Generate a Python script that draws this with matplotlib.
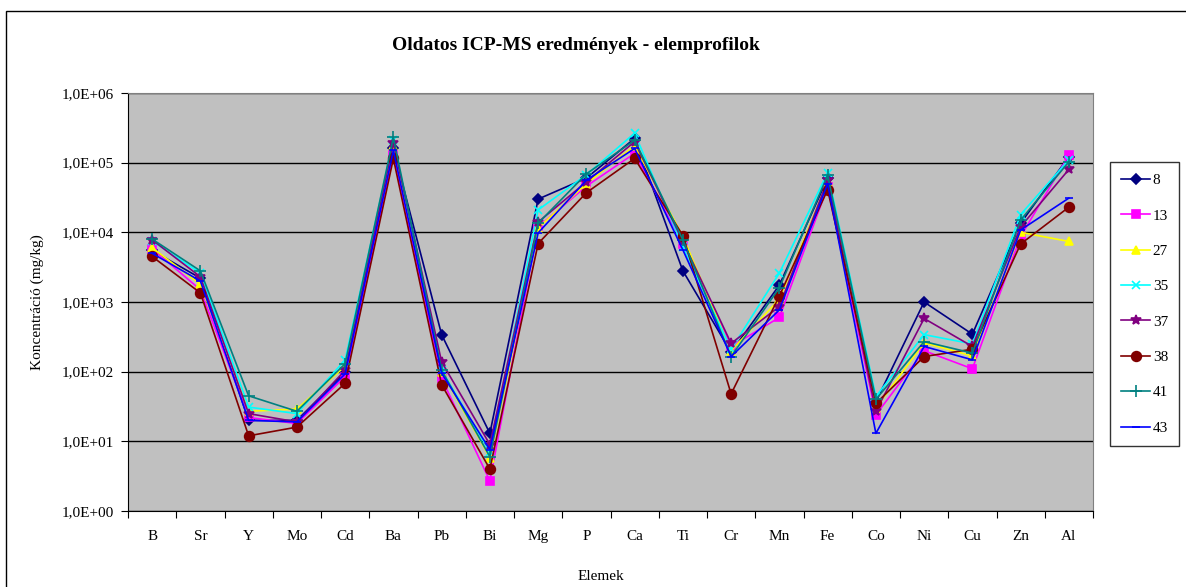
import numpy as np
import matplotlib
matplotlib.use("Agg")
import matplotlib.pyplot as plt
from matplotlib.patches import Rectangle
from matplotlib.ticker import FixedLocator, NullFormatter

plt.rcParams['font.family'] = ['Liberation Serif', 'DejaVu Serif']

# --- adatok ---
elemek = ['B', 'Sr', 'Y', 'Mo', 'Cd', 'Ba', 'Pb', 'Bi', 'Mg', 'P',
          'Ca', 'Ti', 'Cr', 'Mn', 'Fe', 'Co', 'Ni', 'Cu', 'Zn', 'Al']

minta_8 = [5500, 2200, 20, 20, 98, 160000, 340, 13, 30000, 60000,
           223000, 2800, 190, 1750, 60000, 37, 1000, 345, 13500, 122000]
minta_13 = [5800, 1500, 22, 18, 85, 130000, 80, 2.7, 12000, 46000,
            136000, 6800, 230, 600, 45000, 24, 200, 110, 8700, 128000]
minta_27 = [6000, 1800, 27, 29, 120, 175000, 100, 5.8, 11500, 50000,
            175000, 8700, 200, 1100, 53000, 30, 260, 168, 10000, 7400]
minta_35 = [7500, 2600, 31, 25, 147, 210000, 105, 7, 21000, 67000,
            265000, 6200, 210, 2600, 72000, 44, 340, 250, 18000, 110000]
minta_37 = [7800, 2300, 25, 19, 105, 190000, 138, 9, 14000, 53000,
            200000, 7400, 255, 860, 56000, 27, 580, 230, 12000, 80000]
minta_38 = [4500, 1350, 12, 16, 68, 115000, 65, 4, 6900, 37000,
            115000, 9000, 48, 1220, 41000, 35, 165, 210, 6800, 23000]
minta_41 = [8000, 2800, 45, 27, 130, 230000, 105, 6, 13500, 69000,
            210000, 7800, 165, 1600, 66000, 40, 270, 185, 15000, 103000]
minta_43 = [5000, 2000, 20, 19, 93, 150000, 95, 7.6, 9800, 56000,
            160000, 5600, 165, 770, 50000, 13, 230, 148, 10800, 31000]

nevek = ['8', '13', '27', '35', '37', '38', '41', '43']
sorozatok = [minta_8, minta_13, minta_27, minta_35, minta_37, minta_38, minta_41, minta_43]
szinek = ['#000080', '#FF00FF', '#FFFF00', '#00FFFF', '#800080', '#800000', '#008080', '#0000FF']
jelolok = ['D', 's', '^', 'x', '*', 'o', '+', '_']
meretek = [5, 6, 6, 6, 7, 7, 8, 6]

fig = plt.figure(figsize=(11.86, 5.87), dpi=100)

# külső keret a diagram körül
fig.patches.append(Rectangle((6 / 1186, -0.01), 1.0, 1 - 11 / 587 + 0.01,
                             transform=fig.transFigure, fill=False,
                             edgecolor='black', linewidth=1.0))

ax = fig.add_axes([128 / 1186, 1 - 511 / 587, (1093 - 128) / 1186, (511 - 93) / 587])
ax.set_facecolor('#C0C0C0')

x = np.arange(len(elemek))
for nev, adat, c, m, ms in zip(nevek, sorozatok, szinek, jelolok, meretek):
    ax.plot(x, adat, color=c, marker=m, markersize=ms, linewidth=1.2,
            markeredgewidth=1.2, label=nev)

ax.set_yscale('log')
ax.set_ylim(1, 1e6)
ax.set_xlim(-0.5, len(elemek) - 0.5)
ax.yaxis.grid(True, which='major', color='black', linewidth=1.0)
ax.set_axisbelow(True)

decades = [10.0 ** k for k in range(7)]
ax.set_yticks(decades)
ax.set_yticklabels(['1,0E+%02d' % k for k in range(7)], fontsize=11)
ax.yaxis.set_minor_locator(FixedLocator([]))

# kategória-határok tickkel, címkék középen
ax.xaxis.set_major_locator(FixedLocator(np.arange(-0.5, len(elemek), 1.0)))
ax.xaxis.set_major_formatter(NullFormatter())
ax.xaxis.set_minor_locator(FixedLocator(x))
ax.set_xticklabels(elemek, minor=True, fontsize=11)
ax.tick_params(axis='x', which='minor', length=0, pad=14)
ax.tick_params(axis='x', which='major', length=5, direction='out', color='black')
ax.tick_params(axis='y', which='major', length=5, direction='out', pad=5)

for s in ['top', 'right']:
    ax.spines[s].set_color('#808080')
for s in ['left', 'bottom']:
    ax.spines[s].set_color('black')

ax.set_ylabel('Koncentráció (mg/kg)', fontsize=11, labelpad=13)
fig.text(601 / 1186, 1 - 577 / 587, 'Elemek', ha='center', va='center', fontsize=11)
fig.text(576 / 1186, 1 - 45 / 587, 'Oldatos ICP-MS eredmények - elemprofilok',
         ha='center', va='center', fontsize=14, fontweight='bold')

leg = ax.legend(loc='upper left', bbox_to_anchor=(1110 / 1186, 1 - 162 / 587),
                bbox_transform=fig.transFigure, frameon=True, fancybox=False,
                edgecolor='black', fontsize=11, labelspacing=1.42,
                handlelength=1.9, borderpad=0.75, handletextpad=0.15,
                borderaxespad=0)
leg.get_frame().set_linewidth(1.0)

fig.savefig('out.png', dpi=100)
